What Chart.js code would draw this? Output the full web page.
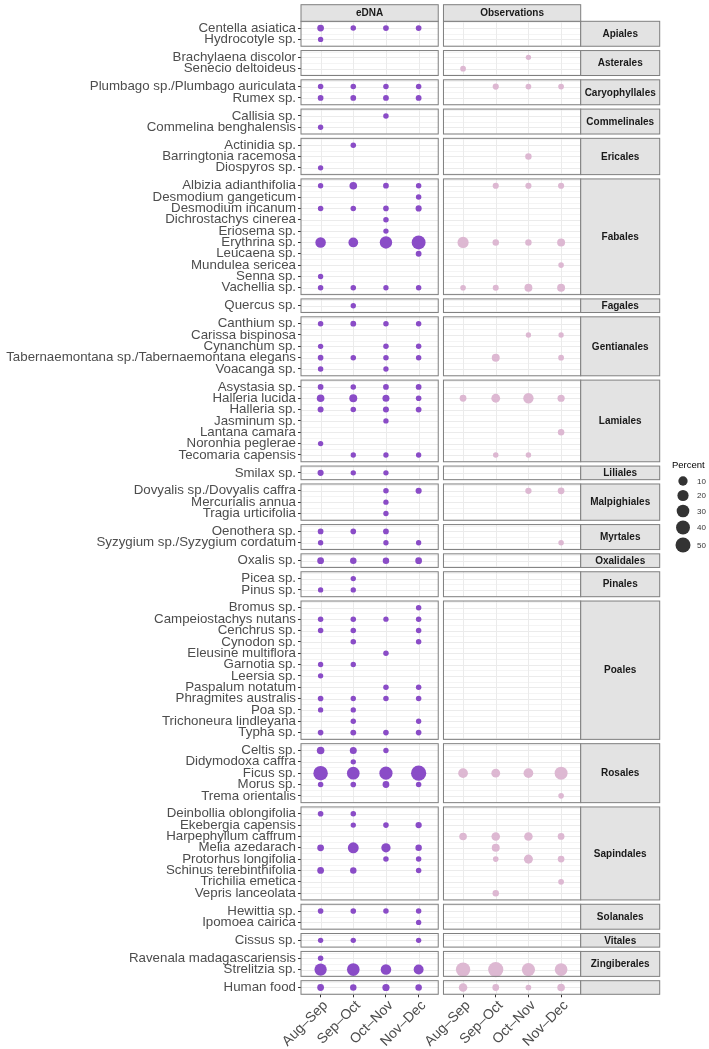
<!DOCTYPE html>
<html>
<head>
<meta charset="utf-8">
<script src="https://cdn.jsdelivr.net/npm/chart.js@4.4.0/dist/chart.umd.min.js"></script>
<style>
  body { margin: 0; background: #fff; }
  #wrap { width: 709px; height: 1049px; }
</style>
</head>
<body>
<div id="wrap"><canvas id="canvas_bubbles" width="709" height="1049"></canvas></div>
<script>
'use strict';
var months = ['Aug–Sep', 'Sep–Oct', 'Oct–Nov', 'Nov–Dec'];
var panelNames = ['eDNA', 'Observations'];

var orders = ['Apiales', 'Asterales', 'Caryophyllales', 'Commelinales', 'Ericales', 'Fabales',
    'Fagales', 'Gentianales', 'Lamiales', 'Liliales', 'Malpighiales', 'Myrtales', 'Oxalidales',
    'Pinales', 'Poales', 'Rosales', 'Sapindales', 'Solanales', 'Vitales', 'Zingiberales', ''];
var orderSizes = [2, 2, 2, 2, 3, 10, 1, 5, 7, 1, 3, 2, 1, 2, 12, 5, 8, 2, 1, 2, 1];

var species = [
    'Centella asiatica', 'Hydrocotyle sp.',
    'Brachylaena discolor', 'Senecio deltoideus',
    'Plumbago sp./Plumbago auriculata', 'Rumex sp.',
    'Callisia sp.', 'Commelina benghalensis',
    'Actinidia sp.', 'Barringtonia racemosa', 'Diospyros sp.',
    'Albizia adianthifolia', 'Desmodium gangeticum', 'Desmodium incanum', 'Dichrostachys cinerea',
    'Eriosema sp.', 'Erythrina sp.', 'Leucaena sp.', 'Mundulea sericea', 'Senna sp.', 'Vachellia sp.',
    'Quercus sp.',
    'Canthium sp.', 'Carissa bispinosa', 'Cynanchum sp.', 'Tabernaemontana sp./Tabernaemontana elegans', 'Voacanga sp.',
    'Asystasia sp.', 'Halleria lucida', 'Halleria sp.', 'Jasminum sp.', 'Lantana camara', 'Noronhia peglerae', 'Tecomaria capensis',
    'Smilax sp.',
    'Dovyalis sp./Dovyalis caffra', 'Mercurialis annua', 'Tragia urticifolia',
    'Oenothera sp.', 'Syzygium sp./Syzygium cordatum',
    'Oxalis sp.',
    'Picea sp.', 'Pinus sp.',
    'Bromus sp.', 'Campeiostachys nutans', 'Cenchrus sp.', 'Cynodon sp.', 'Eleusine multiflora', 'Garnotia sp.',
    'Leersia sp.', 'Paspalum notatum', 'Phragmites australis', 'Poa sp.', 'Trichoneura lindleyana', 'Typha sp.',
    'Celtis sp.', 'Didymodoxa caffra', 'Ficus sp.', 'Morus sp.', 'Trema orientalis',
    'Deinbollia oblongifolia', 'Ekebergia capensis', 'Harpephyllum caffrum', 'Melia azedarach',
    'Protorhus longifolia', 'Schinus terebinthifolia', 'Trichilia emetica', 'Vepris lanceolata',
    'Hewittia sp.', 'Ipomoea cairica',
    'Cissus sp.',
    'Ravenala madagascariensis', 'Strelitzia sp.',
    'Human food'
];

// percent per species, columns = months (0 = not detected)
var edna = [
    [2, 0.3, 0.5, 0.5], [0.2, 0, 0, 0],
    [0, 0, 0, 0], [0, 0, 0, 0],
    [0.3, 0.3, 0.3, 0.3], [0.5, 0.5, 0.6, 0.6],
    [0, 0, 0.3, 0], [0.2, 0, 0, 0],
    [0, 0.3, 0, 0], [0, 0, 0, 0], [0.2, 0, 0, 0],
    [0.2, 4, 0.5, 0.3], [0, 0, 0, 0.3], [0.3, 0.3, 0.4, 1], [0, 0, 0.3, 0],
    [0, 0, 0.2, 0], [16, 12, 28, 40], [0, 0, 0, 0.6], [0, 0, 0, 0], [0.2, 0, 0, 0], [0.3, 0.3, 0.2, 0.3],
    [0, 0.2, 0, 0],
    [0.3, 0.6, 0.3, 0.3], [0, 0, 0, 0], [0.2, 0, 0.3, 0.3], [0.4, 0.3, 0.3, 0.3], [0.3, 0, 0.2, 0],
    [0.5, 0.3, 0.5, 0.5], [4, 5, 2.5, 0.4], [0.8, 0.3, 0.8, 0.5], [0, 0, 0.2, 0], [0, 0, 0, 0], [0.2, 0, 0, 0], [0, 0.2, 0.2, 0.2],
    [1, 0.2, 0.2, 0],
    [0, 0, 0.3, 1], [0, 0, 0.2, 0], [0, 0, 0.2, 0],
    [0.5, 0.4, 0.5, 0], [0.2, 0, 0.2, 0.2],
    [2, 1.5, 1.5, 2],
    [0, 0.2, 0, 0], [0.2, 0.2, 0, 0],
    [0, 0, 0, 0.3], [0.3, 0.3, 0.2, 0.3], [0.3, 0.3, 0, 0.3], [0, 0.3, 0, 0.3], [0, 0, 0.3, 0], [0.2, 0.2, 0, 0],
    [0.2, 0, 0, 0], [0, 0, 0.3, 0.3], [0.4, 0.2, 0.3, 0.3], [0.2, 0.2, 0, 0], [0, 0.2, 0, 0.2], [0.4, 0.6, 0.4, 0.4],
    [4, 2.5, 0.2, 0], [0, 0.2, 0, 0], [45, 30, 34, 52], [0.3, 0.4, 2, 0.3], [0, 0, 0, 0],
    [0.4, 0.3, 0, 0], [0, 0.2, 0.4, 1.2], [0, 0, 0, 0], [2, 18, 10, 1.5],
    [0, 0, 0.3, 0.3], [2, 1.5, 0, 0.3], [0, 0, 0, 0], [0, 0, 0, 0],
    [0.4, 0.4, 0.3, 0.3], [0, 0, 0, 0.2],
    [0.2, 0.2, 0, 0.2],
    [0.3, 0, 0, 0], [27, 30, 16, 13],
    [2, 1.5, 3, 1.5]
];

var observations = [
    [0, 0, 0, 0], [0, 0, 0, 0],
    [0, 0, 0.2, 0], [0.5, 0, 0, 0],
    [0, 1, 0.5, 0.5], [0, 0, 0, 0],
    [0, 0, 0, 0], [0, 0, 0, 0],
    [0, 0, 0, 0], [0, 0, 1.5, 0], [0, 0, 0, 0],
    [0, 1, 1, 1], [0, 0, 0, 0], [0, 0, 0, 0], [0, 0, 0, 0],
    [0, 0, 0, 0], [20, 1.5, 1.5, 5], [0, 0, 0, 0], [0, 0, 0, 0.4], [0, 0, 0, 0], [0.4, 0.8, 5, 5],
    [0, 0, 0, 0],
    [0, 0, 0, 0], [0, 0, 0.2, 0.2], [0, 0, 0, 0], [0, 5, 0, 0.5], [0, 0, 0, 0],
    [0, 0, 0, 0], [2, 8, 15, 3], [0, 0, 0, 0], [0, 0, 0, 0], [0, 0, 0, 1.5], [0, 0, 0, 0], [0, 0.3, 0.3, 0],
    [0, 0, 0, 0],
    [0, 0, 1.2, 2], [0, 0, 0, 0], [0, 0, 0, 0],
    [0, 0, 0, 0], [0, 0, 0, 0.3],
    [0, 0, 0, 0],
    [0, 0, 0, 0], [0, 0, 0, 0],
    [0, 0, 0, 0], [0, 0, 0, 0], [0, 0, 0, 0], [0, 0, 0, 0], [0, 0, 0, 0], [0, 0, 0, 0],
    [0, 0, 0, 0], [0, 0, 0, 0], [0, 0, 0, 0], [0, 0, 0, 0], [0, 0, 0, 0], [0, 0, 0, 0],
    [0, 0, 0, 0], [0, 0, 0, 0], [12, 8, 12, 32], [0, 0, 0, 0], [0, 0, 0, 0.4],
    [0, 0, 0, 0], [0, 0, 0, 0], [4, 7, 7, 2], [0, 5, 0, 0],
    [0, 0.4, 9, 2], [0, 0, 0, 0], [0, 0, 0, 0.5], [0, 1.5, 0, 0],
    [0, 0, 0, 0], [0, 0, 0, 0],
    [0, 0, 0, 0],
    [0, 0, 0, 0], [44, 52, 34, 30],
    [7, 2, 0.5, 4]
];

var legendValues = [10, 20, 30, 40, 50];

// ---- facet geometry (in scale units) ----
var PAD = 0.6, GAP_Y = 0.38;
var panels = [[0.4, 4.6], [4.76, 8.96]];
var rowPos = [], groupSpans = [], cur = 0;
orderSizes.forEach(function (n) {
    var start = cur;
    for (var i = 0; i < n; i++) rowPos.push(start + PAD + i);
    cur = start + (n - 1) + 2 * PAD;
    groupSpans.push([start, cur]);
    cur += GAP_Y;
});
var yMax = cur - GAP_Y;

function colX(p, j) { return panels[p][0] + PAD + j; }
var xTicks = [];
panels.forEach(function (pr, p) { months.forEach(function (m, j) { xTicks.push(colX(p, j)); }); });

function radiusOf(v) { return (4.7 + 10.8 * Math.sqrt(v / 55)) / 2; }

function points(values, p) {
    var pts = [];
    values.forEach(function (row, i) {
        row.forEach(function (v, j) {
            if (v > 0) pts.push({ x: colX(p, j), y: rowPos[i], v: v });
        });
    });
    return pts;
}

var FONT = '"Liberation Sans", Arial, sans-serif';
var BORDER = '#7F7F7F', STRIP = '#E3E3E3';

var facetPlugin = {
    id: 'facets',
    beforeDatasetsDraw: function (chart) {
        var ctx = chart.ctx, xs = chart.scales.x, ys = chart.scales.y, idx = 0;
        ctx.save();
        groupSpans.forEach(function (span, g) {
            var top = ys.getPixelForValue(span[0]), bot = ys.getPixelForValue(span[1]);
            var rows = rowPos.slice(idx, idx + orderSizes[g]);
            idx += orderSizes[g];
            panels.forEach(function (pr, p) {
                var l = xs.getPixelForValue(pr[0]), r = xs.getPixelForValue(pr[1]);
                ctx.fillStyle = '#fff';
                ctx.fillRect(l, top, r - l, bot - top);
                // minor lines between rows
                ctx.strokeStyle = '#F4F4F4';
                ctx.lineWidth = 1;
                ctx.beginPath();
                for (var k = -1; k < rows.length; k++) {
                    var yv = (k < 0 ? rows[0] - 0.5 : rows[k] + 0.5);
                    if (yv <= span[0] || yv >= span[1]) continue;
                    var y = Math.round(ys.getPixelForValue(yv)) + 0.5;
                    ctx.moveTo(l, y); ctx.lineTo(r, y);
                }
                ctx.stroke();
                ctx.strokeStyle = '#EBEBEB';
                ctx.beginPath();
                rows.forEach(function (rv) {
                    var y = Math.round(ys.getPixelForValue(rv)) + 0.5;
                    ctx.moveTo(l, y); ctx.lineTo(r, y);
                });
                months.forEach(function (m, j) {
                    var x = Math.round(xs.getPixelForValue(colX(p, j))) + 0.5;
                    ctx.moveTo(x, top); ctx.lineTo(x, bot);
                });
                ctx.stroke();
            });
        });
        ctx.restore();
    },
    afterDatasetsDraw: function (chart) {
        var ctx = chart.ctx, xs = chart.scales.x, ys = chart.scales.y;
        var area = chart.chartArea;
        ctx.save();
        ctx.lineWidth = 1;
        ctx.strokeStyle = BORDER;
        ctx.textAlign = 'center';
        ctx.textBaseline = 'middle';
        ctx.font = 'bold 10px ' + FONT;
        var stripL = area.right, stripW = 79;
        groupSpans.forEach(function (span, g) {
            var top = ys.getPixelForValue(span[0]), bot = ys.getPixelForValue(span[1]);
            panels.forEach(function (pr) {
                var l = xs.getPixelForValue(pr[0]), r = xs.getPixelForValue(pr[1]);
                ctx.strokeRect(l, top, r - l, bot - top);
            });
            ctx.fillStyle = STRIP;
            ctx.fillRect(stripL, top, stripW, bot - top);
            ctx.strokeRect(stripL, top, stripW, bot - top);
            ctx.fillStyle = '#1A1A1A';
            if (orders[g]) ctx.fillText(orders[g], stripL + stripW / 2, (top + bot) / 2 + 0.5);
        });
        panels.forEach(function (pr, p) {
            var l = xs.getPixelForValue(pr[0]), r = xs.getPixelForValue(pr[1]);
            ctx.fillStyle = STRIP;
            ctx.fillRect(l, 4.7, r - l, area.top - 4.7);
            ctx.strokeRect(l, 4.7, r - l, area.top - 4.7);
            ctx.fillStyle = '#1A1A1A';
            ctx.fillText(panelNames[p], (l + r) / 2, (4.7 + area.top) / 2 + 0.5);
        });

        // size legend
        ctx.textAlign = 'left';
        ctx.fillStyle = '#000';
        ctx.font = '9.5px ' + FONT;
        ctx.fillText('Percent', 672, 465);
        var keyY = [481, 495.5, 511, 527.5, 545];
        ctx.font = '8px ' + FONT;
        legendValues.forEach(function (v, i) {
            ctx.fillStyle = '#333';
            ctx.beginPath();
            ctx.arc(683, keyY[i], radiusOf(v), 0, Math.PI * 2);
            ctx.fill();
            ctx.fillStyle = '#333';
            ctx.fillText(String(v), 697, keyY[i] + 0.5);
        });
        ctx.restore();
    }
};

var datosBurbujas = {
    type : 'bubble',

    data : {
        datasets : [{
            label           : 'eDNA',
            data            : points(edna, 0),
            backgroundColor : '#8A4CC7',
        }, {
            label           : 'Observations',
            data            : points(observations, 1),
            backgroundColor : '#DDB8D2',
        }]
    },

    options : {
        responsive : false,
        animation  : false,
        events     : [],
        layout     : { padding : { top : 21.3, right : 128.3, left : 0, bottom : 0 } },
        elements   : {
            point : {
                borderWidth : 0,
                radius      : function (c) { return c.raw ? radiusOf(c.raw.v) : 3; }
            }
        },
        plugins : {
            legend  : { display : false },
            tooltip : { enabled : false },
        },
        scales : {
            x : {
                type   : 'linear',
                min    : panels[0][0],
                max    : panels[1][1],
                border : { display : false },
                grid   : { drawOnChartArea : false, drawTicks : true, tickLength : 3, color : '#333' },
                afterBuildTicks : function (s) { s.ticks = xTicks.map(function (v) { return { value : v }; }); },
                afterFit : function (s) { s.height = 1049 - 994.3; },
                ticks : {
                    autoSkip    : false,
                    minRotation : 45,
                    maxRotation : 45,
                    padding     : 0,
                    labelOffset : 5,
                    color       : '#4D4D4D',
                    font        : { family : FONT, size : 14 },
                    callback    : function (v, i) { return months[i % months.length]; }
                }
            },
            y : {
                type    : 'linear',
                reverse : true,
                min     : 0,
                max     : yMax,
                border  : { display : false },
                grid    : { drawOnChartArea : false, drawTicks : true, tickLength : 3, color : '#333' },
                afterBuildTicks : function (s) { s.ticks = rowPos.map(function (v) { return { value : v }; }); },
                afterFit : function (s) { s.width = 301; },
                ticks : {
                    autoSkip : false,
                    padding  : 2,
                    color    : '#4D4D4D',
                    font     : { family : FONT, size : 13.3, lineHeight : 1 },
                    callback : function (v, i) { return species[i]; }
                }
            }
        }
    },
    plugins : [facetPlugin]
};

var canvasBu = document.getElementById('canvas_bubbles').getContext('2d');
window.bubbles = new Chart(canvasBu, datosBurbujas);
</script>
</body>
</html>
